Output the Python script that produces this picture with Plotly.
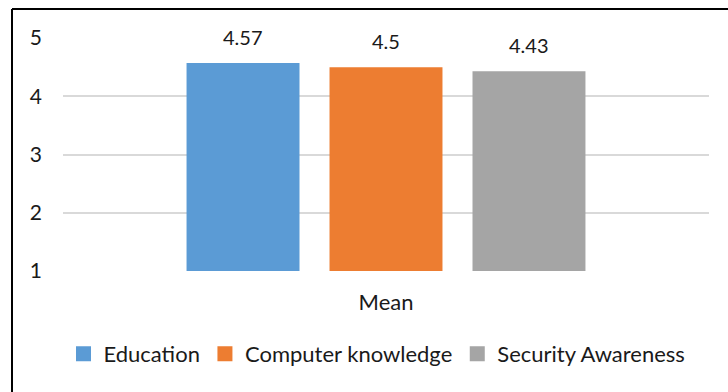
import plotly.graph_objects as go

categories = ["Mean"]
series_names = ["Education", "Computer knowledge", "Security Awareness"]
series_values = [[4.57], [4.5], [4.43]]
colors = ["#5B9BD5", "#ED7D31", "#A5A5A5"]
y_ticks = [1, 2, 3, 4, 5]

FONT = "Lato"
FS = 21
TXT = "#1a1a1a"

fig = go.Figure()
for name, vals, col in zip(series_names, series_values, colors):
    fig.add_trace(go.Bar(x=categories, y=vals, name=name, showlegend=False,
                         marker=dict(color=col, line=dict(width=0)), hoverinfo="skip"))
# legend entries with larger square swatches
for name, col in zip(series_names, colors):
    fig.add_trace(go.Scatter(x=[None], y=[None], mode="markers", name=name,
                             marker=dict(symbol="square", size=15, color=col, line=dict(width=0))))

# data labels
shifts = [-143, 0, 143]
for vals, xs in zip(series_values, shifts):
    fig.add_annotation(x=categories[0], y=vals[0], text=f"{vals[0]:g}", showarrow=False,
                       xshift=xs, yshift=26, yanchor="middle",
                       font=dict(family=FONT, size=20, color=TXT))

L, R, T, B = 63, 19, 38, 121
W, H = 728, 392
pw, ph = W - L - R, H - T - B

# chart border (left and top lines visible)
bx = (12 - L) / pw
by = (H - B - 9) / ph
fig.add_shape(type="line", xref="paper", yref="paper", x0=bx, x1=bx, y0=by, y1=-2,
              line=dict(color="#000000", width=2))
fig.add_shape(type="line", xref="paper", yref="paper", x0=bx, x1=2, y0=by, y1=by,
              line=dict(color="#000000", width=2))

fig.update_layout(
    width=W, height=H,
    margin=dict(l=L, r=R, t=T, b=B),
    paper_bgcolor="white", plot_bgcolor="white",
    barmode="group", bargap=0.336, bargroupgap=0.21,
    font=dict(family=FONT, size=FS, color=TXT),
    showlegend=True,
    legend=dict(orientation="h", x=0.5 - 9 / pw, xanchor="center", y=(H - B - 354) / ph,
                yanchor="middle", font=dict(family=FONT, size=22, color=TXT),
                traceorder="normal", itemwidth=30),
    xaxis=dict(showgrid=False, showline=False, ticks="", ticklabelstandoff=16,
               tickfont=dict(family=FONT, size=22, color=TXT)),
    yaxis=dict(range=[1, 5], tickvals=y_ticks, ticktext=[str(t) for t in y_ticks],
               showgrid=True, gridcolor="#D9D9D9", gridwidth=1.5, zeroline=False,
               showline=False, ticks="",
               ticklabelstandoff=20, tickfont=dict(family=FONT, size=FS, color=TXT)),
)

fig.write_html("out.html")
